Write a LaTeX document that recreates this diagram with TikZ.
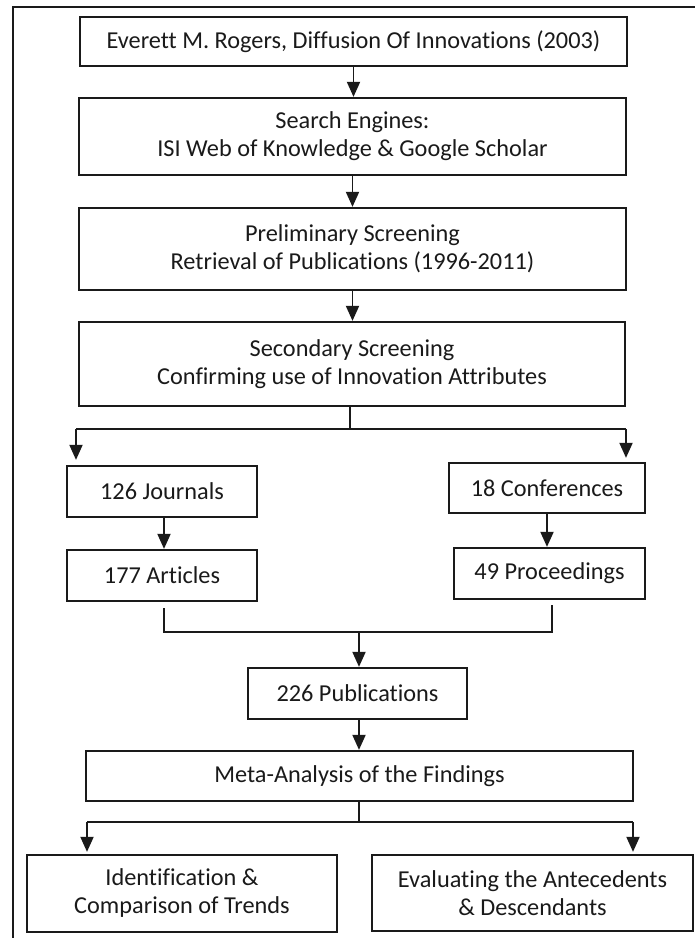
\documentclass[tikz,border=0pt]{standalone}
\usepackage{fontspec}
\setmainfont[Ligatures={NoCommon}]{Carlito}
\usetikzlibrary{arrows.meta}
\definecolor{ink}{HTML}{1A1A1A}
\begin{document}
\begin{tikzpicture}[x=1pt,y=-1pt,
  every node/.style={font=\fontsize{24.3}{28}\selectfont, text=ink, align=center, inner sep=0pt},
  stepbox/.style={draw=ink, line width=2.3pt, fill=white},
  conn/.style={draw=ink, line width=1.9pt},
  arr/.style={conn, -{Triangle[width=13pt,length=15pt]}},
  frameline/.style={draw=ink, line width=1.8pt}]
\useasboundingbox (0,0) rectangle (695,938);

% outer frame (only the top and left edges fall on the page)
\draw[frameline] (13,938) -- (13,7) -- (695,7);

% main column
\node[stepbox, minimum width=547pt, minimum height=49pt] (b1) at (353.5,41.5)
  {Everett M. Rogers, Diffusion Of Innovations (2003)};
\node[stepbox, minimum width=547pt, minimum height=77pt] (b2) at (352.5,136.5)
  {Search Engines:\\ ISI Web of Knowledge \& Google Scholar};
\node[stepbox, minimum width=547pt, minimum height=82pt] (b3) at (352.5,249)
  {Preliminary Screening\\ Retrieval of Publications (1996-2011)};
\node[stepbox, minimum width=546pt, minimum height=84pt] (b4) at (352,364)
  {Secondary Screening\\ Confirming use of Innovation Attributes};

% two branches
\node[stepbox, minimum width=190pt, minimum height=51pt] (jn) at (162,491.5) {126 Journals};
\node[stepbox, minimum width=196pt, minimum height=50pt] (cf) at (547,488) {18 Conferences};
\node[stepbox, minimum width=190pt, minimum height=51pt] (ar) at (162,575.5) {177 Articles};
\node[stepbox, minimum width=191pt, minimum height=51pt] (pr) at (549.5,573.5) {49 Proceedings};

% merged results
\node[stepbox, minimum width=219pt, minimum height=51pt] (pb) at (357.5,693.5) {226 Publications};
\node[stepbox, minimum width=547pt, minimum height=50pt] (mt) at (359.5,776) {Meta-Analysis of the Findings};

% outcomes
\node[stepbox, minimum width=310pt, minimum height=77pt] (bl) at (182,893.5)
  {Identification \&\\ Comparison of Trends};
\node[stepbox, minimum width=321pt, minimum height=76pt] (br) at (532.5,893)
  {Evaluating the Antecedents\\ \& Descendants};

% junction points
\coordinate (s1) at (350,429);
\coordinate (s1L) at (76,429);
\coordinate (s1R) at (626,429);
\coordinate (j1) at (359,632);
\coordinate (jL) at (164,632);
\coordinate (jR) at (552,632);
\coordinate (s2) at (359,822);
\coordinate (s2L) at (87,822);
\coordinate (s2R) at (633,822);

% connectors down the main column
\draw[arr] (b1.south) -- (b1.south |- b2.north);
\draw[arr] (b2.south) -- (b2.south |- b3.north);
\draw[arr] (b3.south) -- (b3.south |- b4.north);

% split into journals and conferences
\draw[conn] (b4.south -| s1) -- (s1);
\draw[conn] (s1L) -- (s1R);
\draw[arr, shorten >=5pt] (s1L) -- (s1L |- jn.north);
\draw[arr, shorten >=4pt] (s1R) -- (s1R |- cf.north);
\draw[arr] (jn.south -| jL) -- (ar.north -| jL);
\draw[arr] (cf.south) -- (cf.south |- pr.north);

% merge into publications
\draw[conn] ([yshift=-6pt]ar.south -| jL) -- (jL) -- (jR) -- ([yshift=-5pt]pr.south -| jR);
\draw[arr] (j1) -- (j1 |- pb.north);
\draw[arr] (pb.south -| j1) -- (j1 |- mt.north);

% split into the two outcomes
\draw[conn] (mt.south -| s2) -- (s2);
\draw[conn] (s2L) -- (s2R);
\draw[arr, shorten >=2pt] (s2L) -- (s2L |- bl.north);
\draw[arr, shorten >=2pt] (s2R) -- (s2R |- br.north);
\end{tikzpicture}
\end{document}
